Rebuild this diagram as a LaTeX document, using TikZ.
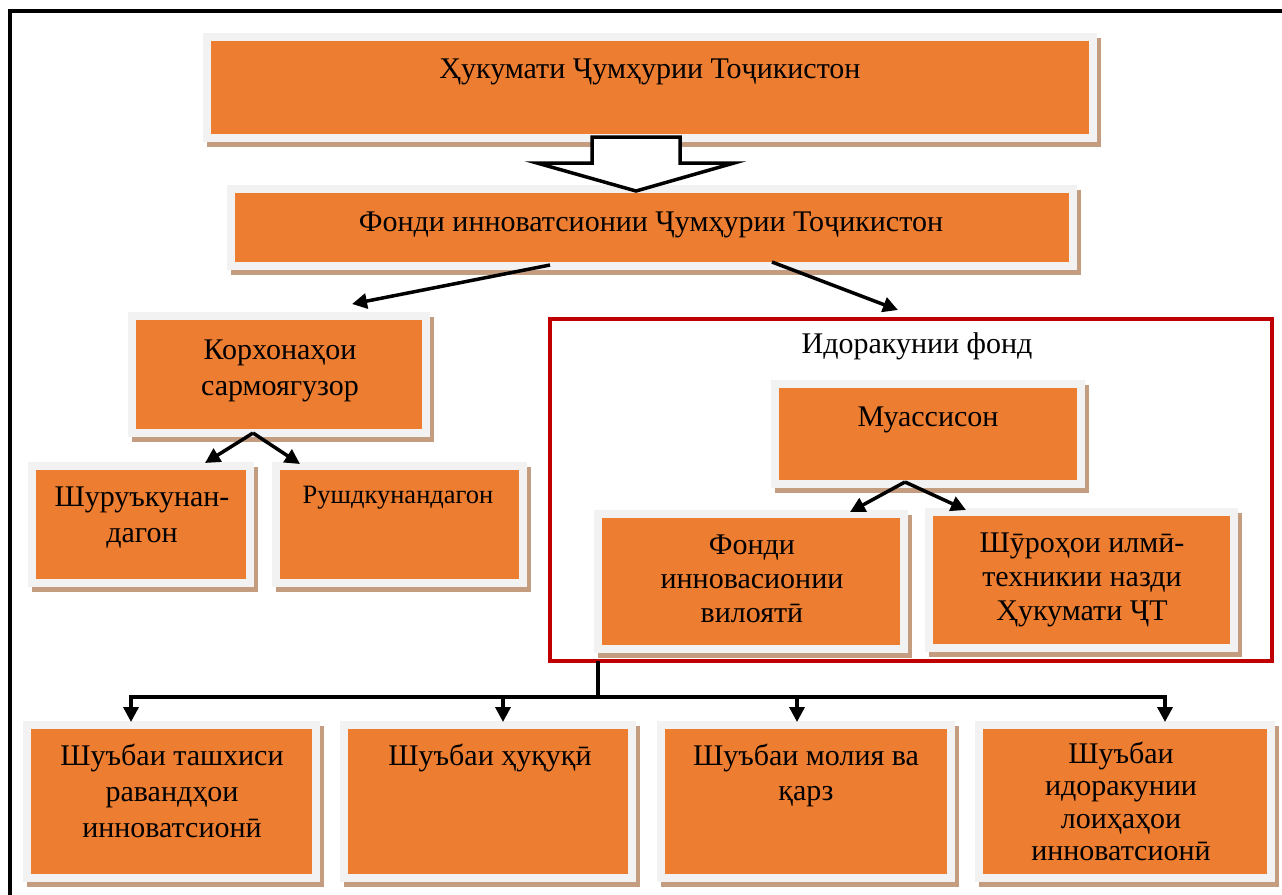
\documentclass[tikz,border=0pt]{standalone}
\usepackage{fontspec}
\setmainfont{Liberation Serif}
\usetikzlibrary{arrows.meta}
\definecolor{boxorange}{HTML}{ED7D31}
\definecolor{boxgray}{HTML}{F2F2F2}
\definecolor{boxshadow}{HTML}{C49C80}
\definecolor{framered}{HTML}{C00000}
\tikzset{
  obox/.style={rectangle, fill=boxorange, draw=boxgray, line width=8pt, inner sep=0pt, outer sep=0pt},
  txt/.style={anchor=base, align=center, font=\fontsize{30}{36}\selectfont, inner sep=0pt},
  conn/.style={line width=3.5pt, -{Triangle[length=15pt,width=15pt]}},
  busline/.style={line width=3.5pt},
  hollow/.style={line width=3.5pt, fill=white, draw=black, line join=miter},
}
\newcommand\orbox[5]{%
  \fill[boxshadow] ({#2+4},{#3+5}) rectangle ({#4+4},{#5+5});
  \node[obox, minimum width={(#4-#2-8)*1pt}, minimum height={(#5-#3-8)*1pt}] (#1) at ({(#2+#4)/2},{(#3+#5)/2}) {};
}
\begin{document}
\begin{tikzpicture}[x=1pt,y=-1pt]
\useasboundingbox (0,0) rectangle (1282,894);
\fill[white] (0,0) rectangle (1282,894);
\draw[line width=4.5pt] (10,896) -- (10,11) -- (1284,11);

\orbox{b1}{203}{33}{1097}{142}
\orbox{b2}{227}{185}{1077}{270}
\draw[hollow] (592,137) -- (680,137) -- (680,163) -- (734,163) -- (636,191) -- (537,163) -- (592,163) -- cycle;

\orbox{b3}{128}{312}{430}{437}
\orbox{b4}{28}{462}{254}{587}
\orbox{b5}{272}{462}{527}{587}

\node[draw=framered, line width=4pt, minimum width=722pt, minimum height=342pt, inner sep=0pt, outer sep=0pt] (r) at (911,490) {};
\orbox{b7}{771}{380}{1085}{488}
\orbox{b8}{594}{510}{908}{653}
\orbox{b9}{925}{508}{1238}{652}

\orbox{c1}{23}{721}{320}{882}
\orbox{c2}{340}{721}{636}{882}
\orbox{c3}{657}{721}{955}{882}
\orbox{c4}{975}{721}{1275}{882}

% texts (anchor = baseline of the last line)
\node[txt] (t1) at (650,78) {Ҳукумати Ҷумҳурии Тоҷикистон};
\node[txt] (t2) at (651,231) {Фонди инноватсионии Ҷумҳурии Тоҷикистон};
\node[txt] (t3) at (280,395) {Корхонаҳои\\сармоягузор};
\node[txt] (t4) at (142,542) {Шуруъкунан-\\дагон};
\node[txt, font=\fontsize{26.5}{30}\selectfont] (t5) at (398,503) {Рушдкунандагон};
\node[txt] (tr) at (917,353) {Идоракунии фонд};
\node[txt] (t7) at (928,426) {Муассисон};
\node[txt, font=\fontsize{30}{34}\selectfont] (t8) at (752,622) {Фонди\\инновасионии\\вилоятӣ};
\node[txt, font=\fontsize{30}{34}\selectfont] (t9) at (1082,620) {Шӯроҳои илмӣ-\\техникии назди\\Ҳукумати ҶТ};
\node[txt] (u1) at (172,837) {Шуъбаи ташхиси\\равандҳои\\инноватсионӣ};
\node[txt] (u2) at (490,765) {Шуъбаи ҳуқуқӣ};
\node[txt, font=\fontsize{30}{35}\selectfont] (u3) at (806,800) {Шуъбаи молия ва\\қарз};
\node[txt, font=\fontsize{30}{32.5}\selectfont] (u4) at (1121,860.5) {Шуъбаи\\идоракунии\\лоиҳаҳои\\инноватсионӣ};

% connectors
\draw[conn] ([xshift=-102pt,yshift=1pt]b2.south) -- ([xshift=73pt,yshift=12pt]b3.north);
\draw[conn] ([xshift=120pt,yshift=4pt]b2.south) -- ([xshift=-13pt,yshift=9pt]r.north);
\draw[conn] ([xshift=-26pt]b3.south) -- ([xshift=64pt,yshift=3pt]b4.north);
\draw[conn] ([xshift=-26pt]b3.south) -- ([xshift=-99.5pt,yshift=2pt]b5.north);
\draw[conn] ([xshift=-23pt,yshift=2pt]b7.south) -- ([xshift=99pt,yshift=2pt]b8.north);
\draw[conn] ([xshift=-23pt,yshift=2pt]b7.south) -- ([xshift=-115.5pt,yshift=2pt]b9.north);

\coordinate (bus) at ([xshift=-313pt,yshift=-36pt]r.south);
\draw[busline] ([xshift=-313pt]r.south) -- (bus);
\draw[conn] (bus) -| ([xshift=-40.5pt,yshift=3pt]c1.north);
\draw[conn] (bus) -| ([xshift=15pt,yshift=3pt]c2.north);
\draw[conn] (bus) -| ([xshift=-9pt,yshift=3pt]c3.north);
\draw[conn] (bus) -| ([xshift=40pt,yshift=3pt]c4.north);
\end{tikzpicture}
\end{document}
